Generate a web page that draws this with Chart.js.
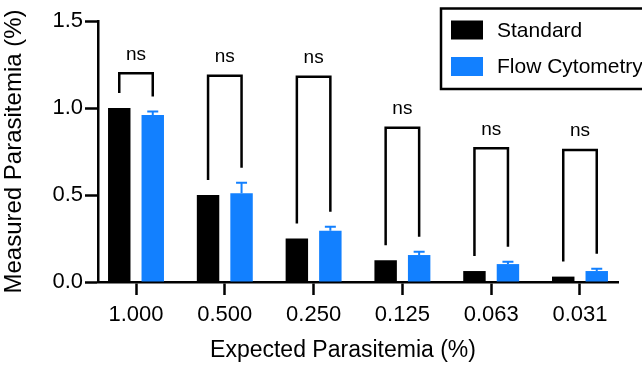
<!DOCTYPE html>
<html>
<head>
<meta charset="utf-8">
<script src="https://cdn.jsdelivr.net/npm/chart.js@4.4.1/dist/chart.umd.min.js"></script>
<style>
  html, body { margin: 0; padding: 0; background: #fff; }
  canvas { display: block; }
</style>
</head>
<body>
<canvas id="chart" width="642" height="367"></canvas>
<script>
// Expected parasitemia levels (x categories)
const categories = ['1.000', '0.500', '0.250', '0.125', '0.063', '0.031'];
// Measured parasitemia (%) by method
const standardValues = [1.0, 0.5, 0.25, 0.125, 0.063, 0.031];
const flowValues = [0.96, 0.51, 0.295, 0.155, 0.103, 0.063];
const flowErrors = [0.02, 0.06, 0.023, 0.019, 0.013, 0.013];
// Significance brackets: label and bracket height (in % units) per group
const sigLabels = ['ns', 'ns', 'ns', 'ns', 'ns', 'ns'];
const sigLevels = [1.20, 1.186, 1.18, 0.887, 0.768, 0.759];
// Y axis ticks
const yTicks = [0, 0.5, 1.0, 1.5];

const FONT = '"Liberation Sans", Arial, Helvetica, sans-serif';
const BLACK = '#000000';
const BLUE = 'rgb(18,128,255)';
const LINE_W = 2.5;

// Upward SD whiskers on the flow cytometry bars
const errorBars = {
  id: 'errorBars',
  afterDatasetsDraw(chart) {
    const meta = chart.getDatasetMeta(1);
    const y = chart.scales.y;
    const ctx = chart.ctx;
    ctx.save();
    ctx.strokeStyle = BLUE;
    ctx.lineWidth = 2;
    meta.data.forEach((bar, i) => {
      const top = y.getPixelForValue(flowValues[i] + flowErrors[i]);
      ctx.beginPath();
      ctx.moveTo(bar.x, bar.y);
      ctx.lineTo(bar.x, top);
      ctx.moveTo(bar.x - 5.5, top);
      ctx.lineTo(bar.x + 5.5, top);
      ctx.stroke();
    });
    ctx.restore();
  }
};

// Comparison brackets with significance labels
const brackets = {
  id: 'brackets',
  afterDraw(chart) {
    const m0 = chart.getDatasetMeta(0);
    const m1 = chart.getDatasetMeta(1);
    const y = chart.scales.y;
    const ctx = chart.ctx;
    const gap = 15;
    ctx.save();
    ctx.strokeStyle = BLACK;
    ctx.lineWidth = LINE_W;
    ctx.lineJoin = 'miter';
    ctx.fillStyle = BLACK;
    ctx.font = '19px ' + FONT;
    ctx.textAlign = 'center';
    ctx.textBaseline = 'alphabetic';
    categories.forEach((c, i) => {
      const xl = m0.data[i].x;
      const xr = m1.data[i].x;
      const top = y.getPixelForValue(sigLevels[i]);
      const yl = y.getPixelForValue(standardValues[i]) - gap;
      const yr = y.getPixelForValue(flowValues[i] + flowErrors[i]) - gap;
      ctx.beginPath();
      ctx.moveTo(xl, yl);
      ctx.lineTo(xl, top);
      ctx.lineTo(xr, top);
      ctx.lineTo(xr, yr);
      ctx.stroke();
      ctx.fillText(sigLabels[i], (xl + xr) / 2, top - 13.5);
    });
    ctx.restore();
  }
};

// Boxed legend in the upper right and the x axis title
const decorations = {
  id: 'decorations',
  afterDraw(chart) {
    const ctx = chart.ctx;
    const ds = chart.data.datasets;
    ctx.save();
    ctx.strokeStyle = BLACK;
    ctx.lineWidth = LINE_W;
    ctx.strokeRect(441, 8.5, 220, 80.5);
    ctx.font = '21px ' + FONT;
    ctx.textAlign = 'left';
    ctx.textBaseline = 'middle';
    ds.forEach((d, i) => {
      const cy = 30 + i * 36.5;
      ctx.fillStyle = d.backgroundColor;
      ctx.fillRect(451, cy - 9.5, 32, 19);
      ctx.fillStyle = BLACK;
      ctx.fillText(d.label, 497, cy + 1);
    });
    ctx.font = '23px ' + FONT;
    ctx.textAlign = 'center';
    ctx.textBaseline = 'alphabetic';
    ctx.fillText('Expected Parasitemia (%)', 343, 357);
    ctx.restore();
  }
};

new Chart(document.getElementById('chart'), {
  type: 'bar',
  data: {
    datasets: [
      {
        label: 'Standard',
        data: standardValues.map((v, i) => ({ x: i, y: v })),
        backgroundColor: BLACK,
        borderWidth: 0
      },
      {
        label: 'Flow Cytometry',
        data: flowValues.map((v, i) => ({ x: i, y: v })),
        backgroundColor: BLUE,
        borderWidth: 0
      }
    ]
  },
  options: {
    responsive: false,
    animation: false,
    devicePixelRatio: 1,
    categoryPercentage: 0.7545,
    barPercentage: 0.67,
    layout: { padding: { top: 21, right: 24, left: 0, bottom: 0 } },
    plugins: {
      legend: { display: false },
      tooltip: { enabled: false }
    },
    scales: {
      x: {
        type: 'linear',
        offset: false,
        min: -0.428,
        max: 5.428,
        z: 1,
        afterFit(scale) { scale.height = 85; },
        afterBuildTicks(scale) {
          scale.ticks = categories.map((c, i) => ({ value: i }));
        },
        ticks: {
          stepSize: 1,
          includeBounds: false,
          padding: 7,
          color: BLACK,
          font: { family: FONT, size: 22 },
          maxRotation: 0,
          autoSkip: false,
          callback: (v) => categories[v]
        },
        grid: {
          offset: false,
          drawOnChartArea: false,
          drawTicks: true,
          tickLength: 13,
          tickWidth: LINE_W,
          tickColor: BLACK
        },
        border: { display: true, color: BLACK, width: LINE_W }
      },
      y: {
        type: 'linear',
        min: 0,
        max: 1.5,
        afterFit(scale) { scale.width = 98; },
        afterBuildTicks(scale) {
          scale.ticks = yTicks.map(v => ({ value: v }));
        },
        ticks: {
          padding: 2,
          color: BLACK,
          font: { family: FONT, size: 22 },
          callback: (v) => Number(v).toFixed(1)
        },
        grid: {
          drawOnChartArea: false,
          drawTicks: true,
          tickLength: 13,
          tickWidth: LINE_W,
          tickColor: BLACK
        },
        border: { display: true, color: BLACK, width: LINE_W },
        title: {
          display: true,
          text: 'Measured Parasitemia (%)',
          color: BLACK,
          font: { family: FONT, size: 24 },
          padding: { top: 0, bottom: 0 }
        }
      }
    }
  },
  plugins: [errorBars, brackets, decorations]
});
</script>
</body>
</html>
